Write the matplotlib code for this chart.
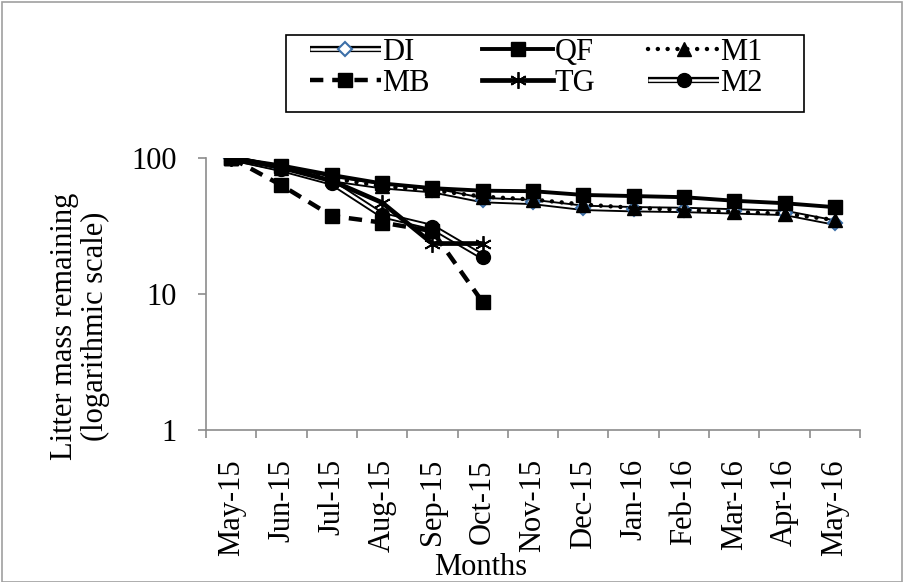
import numpy as np
import matplotlib
matplotlib.use("Agg")
import matplotlib.pyplot as plt
from matplotlib.legend_handler import HandlerTuple
from matplotlib.patches import Rectangle

plt.rcParams['font.family'] = ['Liberation Serif', 'DejaVu Serif']

months = ['May-15', 'Jun-15', 'Jul-15', 'Aug-15', 'Sep-15', 'Oct-15', 'Nov-15',
          'Dec-15', 'Jan-16', 'Feb-16', 'Mar-16', 'Apr-16', 'May-16']

# litter mass remaining (%)
di = [100, 84, 70, 62, 58, 49, 47.5, 43, 42, 41.5, 40.5, 39.5, 33.5]
qf = [100, 88, 75, 65, 60, 57.5, 57, 53.5, 52.5, 51.5, 48.5, 46.5, 43.5]
m1 = [100, 85, 71, 62, 58, 52, 49.5, 45.5, 43, 41.5, 40, 39, 35]
mb = [100, 63, 37.5, 33.5, 29, 8.7]
tg = [100, 85, 68, 47, 23.5, 23.5]
m2 = [100, 83, 66, 38, 31, 18.8]

x_all = np.arange(len(months))
fs = 22

W, H = 906, 582
fig = plt.figure(figsize=(W/100, H/100), dpi=100)
ax = fig.add_axes([206/W, 1-430/H, 654/W, 272/H])

ms = 9.5

# DI : double line with white diamonds (blue edge)
di_o, = ax.plot(x_all[:len(di)], di, color='black', lw=4.5, solid_capstyle='butt', zorder=2)
di_i, = ax.plot(x_all[:len(di)], di, color='white', lw=1.8, solid_capstyle='butt', zorder=2)
di_m, = ax.plot(x_all[:len(di)], di, ls='none', marker='D', ms=7, mfc='white',
                mec='#3c6fa8', mew=1.5, zorder=3)

# QF : solid with squares
qf_l, = ax.plot(x_all[:len(qf)], qf, color='black', lw=2.8, marker='s', ms=ms, zorder=3)

# M1 : round dots with triangles
m1_l, = ax.plot(x_all[:len(m1)], m1, color='black', lw=3.2, ls=(0, (0.01, 2.2)),
                dash_capstyle='round', marker='^', ms=ms + 0.5, zorder=3)

# MB : dashed with squares
mb_l, = ax.plot(x_all[:len(mb)], mb, color='black', lw=3.2, ls=(0, (3, 2)),
                marker='s', ms=ms, zorder=3)

# TG : thick solid with star
tg_l, = ax.plot(x_all[:len(tg)], tg, color='black', lw=3.4, marker=(6, 2, 0), ms=12,
                mew=1.3, zorder=3)

# M2 : double line with circles
m2_o, = ax.plot(x_all[:len(m2)], m2, color='black', lw=4.5, solid_capstyle='butt', zorder=2)
m2_i, = ax.plot(x_all[:len(m2)], m2, color='white', lw=1.8, solid_capstyle='butt', zorder=2)
m2_m, = ax.plot(x_all[:len(m2)], m2, ls='none', marker='o', ms=ms + 0.5, color='black', zorder=3)

ax.set_yscale('log')
ax.set_ylim(1, 100)
ax.set_xlim(-0.5, len(months) - 0.5)
ax.set_yticks([1, 10, 100])
ax.set_yticklabels(['1', '10', '100'])
ax.yaxis.set_minor_locator(matplotlib.ticker.NullLocator())

ax.set_xticks(x_all)
ax.set_xticklabels(months, rotation=90, fontsize=fs)
ax.set_xticks(np.arange(-0.5, len(months)), minor=True)
ax.tick_params(axis='x', which='major', length=0, pad=21)
ax.tick_params(axis='x', which='minor', length=6, width=1.2, color='#8c8c8c', direction='out')
ax.tick_params(axis='y', which='major', length=6, width=1.2, color='#8c8c8c',
               labelsize=fs, pad=15)

for s in ['top', 'right']:
    ax.spines[s].set_visible(False)
for s in ['left', 'bottom']:
    ax.spines[s].set_color('#8c8c8c')
    ax.spines[s].set_linewidth(1.2)

fig.text(80/W, 1-326/H, 'Litter mass remaining\n(logarithmic scale)', fontsize=fs,
         rotation=90, ha='center', va='center', multialignment='center', linespacing=1.05)
fig.text(481/W, 1-575/H, 'Months', fontsize=fs, ha='center', va='baseline')

# column-major order so rows read DI QF M1 / MB TG M2
handles = [(di_o, di_i, di_m), mb_l, qf_l, tg_l, m1_l, (m2_o, m2_i, m2_m)]
labels = ['DI', 'MB', 'QF', 'TG', 'M1', 'M2']
leg = fig.legend(handles, labels, ncol=3, loc='upper left',
                 bbox_to_anchor=(310/W, 1-38/H), fontsize=fs,
                 handler_map={tuple: HandlerTuple(ndivide=1)},
                 handlelength=2.32, handletextpad=0.05, columnspacing=1.72,
                 labelspacing=0.05, borderpad=0, borderaxespad=0, frameon=False)

# legend box and chart border
fig.patches.append(Rectangle((286/W, 1-112/H), 518/W, 77/H, transform=fig.transFigure,
                             fill=False, edgecolor='black', lw=1.2))
fig.patches.append(Rectangle((2/W, 0), 900/W, 1-2/H, transform=fig.transFigure,
                             fill=False, edgecolor='#a0a0a0', lw=1.2))

fig.savefig('out.png', dpi=100)
